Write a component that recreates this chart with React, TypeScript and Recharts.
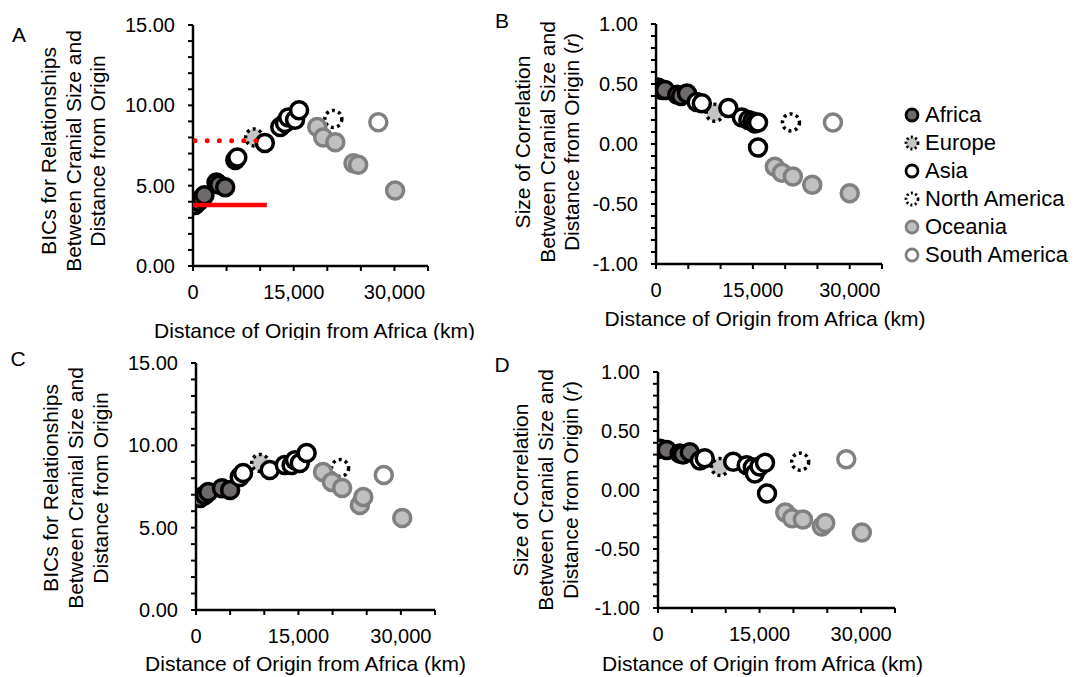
import React from 'react';
import { ScatterChart, Scatter, XAxis, YAxis, Legend } from 'recharts';

const FONT = '"Liberation Sans", Arial, Helvetica, sans-serif';

// ---------- categories ----------
const regions = ['Africa', 'Europe', 'Asia', 'North America', 'Oceania', 'South America'];

// ---------- tick values ----------
const xTicks = [0, 5000, 10000, 15000, 20000, 25000, 30000, 35000];
const bicTicks = [0, 1, 2, 3, 4, 5, 6, 7, 8, 9, 10, 11, 12, 13, 14, 15];
const rTicks = [-1, -0.9, -0.8, -0.7, -0.6, -0.5, -0.4, -0.3, -0.2, -0.1, 0, 0.1, 0.2, 0.3, 0.4, 0.5, 0.6, 0.7, 0.8, 0.9, 1];

// ---------- Panel A (BIC) : [distance km, BIC] ----------
const aAfrica = [[300, 3.8], [800, 4.0], [1300, 4.2], [1700, 4.4], [3500, 5.2], [3900, 5.05], [4800, 4.9]];
const aEurope = [[9100, 8.0]];
const aAsia = [[6300, 6.6], [6600, 6.75], [10700, 7.65], [13000, 8.65], [13700, 8.9], [14200, 9.25], [15200, 9.1], [15800, 9.7]];
const aNorthAmerica = [[20900, 9.15]];
const aOceania = [[18500, 8.65], [19400, 8.0], [21200, 7.7], [23900, 6.4], [24600, 6.3], [30100, 4.7]];
const aSouthAmerica = [[27600, 8.95]];
const aSolidLine = [[0, 3.8], [11000, 3.8]];
const aDottedLine = [[300, 7.8], [9400, 7.8]];

// ---------- Panel B (r) ----------
const bAfrica = [[300, 0.47], [900, 0.45], [1400, 0.45], [3300, 0.41], [3900, 0.40], [4800, 0.42]];
const bEurope = [[9100, 0.26]];
const bAsia = [[6300, 0.35], [7100, 0.34], [11200, 0.30], [13300, 0.22], [14300, 0.20], [14900, 0.19], [15300, 0.17], [15800, 0.18], [15800, -0.03]];
const bNorthAmerica = [[20900, 0.18]];
const bOceania = [[18400, -0.19], [19500, -0.24], [21200, -0.27], [24200, -0.34], [30000, -0.41]];
const bSouthAmerica = [[27400, 0.18]];

// ---------- Panel C (BIC) ----------
const cAfrica = [[600, 6.8], [1300, 6.98], [1800, 7.17], [3800, 7.4], [5000, 7.29]];
const cEurope = [[9400, 8.93]];
const cAsia = [[6400, 8.07], [6900, 8.32], [10800, 8.5], [13000, 8.8], [14000, 8.8], [14500, 9.1], [15200, 8.93], [16200, 9.53]];
const cNorthAmerica = [[21100, 8.62]];
const cOceania = [[18600, 8.38], [19900, 7.77], [21400, 7.41], [24000, 6.38], [24500, 6.86], [30200, 5.59]];
const cSouthAmerica = [[27500, 8.2]];

// ---------- Panel D (r) ----------
const dAfrica = [[300, 0.35], [1300, 0.34], [3200, 0.31], [3700, 0.30], [4700, 0.32]];
const dEurope = [[9150, 0.195]];
const dAsia = [[6200, 0.25], [6900, 0.27], [11100, 0.24], [13100, 0.21], [14000, 0.19], [14300, 0.14], [15000, 0.2], [15800, 0.23], [16100, -0.03]];
const dNorthAmerica = [[21000, 0.24]];
const dOceania = [[18800, -0.19], [19800, -0.24], [21400, -0.25], [24200, -0.31], [24700, -0.28], [30100, -0.36]];
const dSouthAmerica = [[27800, 0.26]];

// ---------- styles ----------
const seriesStyle: Record<string, { fill: string; stroke: string; dash?: string }> = {
  'Africa': { fill: '#6e6a6a', stroke: '#000000' },
  'Europe': { fill: '#c4c4c4', stroke: '#000000', dash: '3 3.4' },
  'Asia': { fill: '#ffffff', stroke: '#000000' },
  'North America': { fill: '#ffffff', stroke: '#000000', dash: '3 3.4' },
  'Oceania': { fill: '#c0c0c0', stroke: '#808080' },
  'South America': { fill: '#ffffff', stroke: '#808080' },
};

const toPts = (arr: number[][]) => arr.map(([x, y]) => ({ x, y }));

const makeShape = (name: string) => (p: any) => {
  const st = seriesStyle[name];
  return (
    <circle cx={p.cx} cy={p.cy} r={8.5} fill={st.fill} stroke={st.stroke} strokeWidth={3.5} strokeDasharray={st.dash} />
  );
};
const noShape = () => <g />;

const fmtX = (v: number) => (v % 15000 === 0 ? v.toLocaleString('en-US') : '');
const fmtBic = (v: number) => (v % 5 === 0 ? v.toFixed(2) : '');
const fmtR = (v: number) => (Math.abs(v * 2 - Math.round(v * 2)) < 1e-9 ? (Math.abs(v) < 1e-9 ? '0.00' : v.toFixed(2)) : '');

const tickStyle = { fontSize: 20, fontFamily: FONT, fill: '#000' };
const axisLine = { stroke: '#000', strokeWidth: 2.5 };
const tickLine = { stroke: '#000', strokeWidth: 2 };

type PanelProps = {
  left: number; top: number; width: number; height: number;
  margin: { top: number; right: number; bottom: number; left: number };
  yWidth: number;
  yDomain: [number, number];
  yTicks: number[];
  yFmt: (v: number) => string;
  data: number[][][];
  letter: string; letterPos: [number, number];
  yLines: React.ReactNode[]; yLineX: number[]; yCenter: number;
  xTitleDx: number; xTitleDy: number;
  extra?: React.ReactNode;
};

function Panel(props: PanelProps) {
  const { left, top, width, height, margin, yWidth, yDomain, yTicks, yFmt, data, letter, letterPos, yLines, yLineX, yCenter, xTitleDx, xTitleDy, extra } = props;
  const yTitle = () => (
    <g>
      <text x={letterPos[0]} y={letterPos[1]} textAnchor="middle" dominantBaseline="central" fontFamily={FONT} fontSize={21} fill="#000">{letter}</text>
      {yLines.map((ln, i) => (
        <text key={i} x={yLineX[i]} y={yCenter} transform={`rotate(-90, ${yLineX[i]}, ${yCenter})`} textAnchor="middle" dominantBaseline="central" fontFamily={FONT} fontSize={21} fill="#000">{ln}</text>
      ))}
    </g>
  );
  const xTitle = (p: any) => {
    const vb = p.viewBox || { x: 0, y: 0, width: 0 };
    return (
      <text x={vb.x + vb.width / 2 + xTitleDx} y={vb.y + xTitleDy} textAnchor="middle" dominantBaseline="central" fontFamily={FONT} fontSize={21} fill="#000">
        Distance of Origin from Africa (km)
      </text>
    );
  };
  return (
    <div style={{ position: 'absolute', left, top, width, height }}>
      <ScatterChart width={width} height={height} margin={margin}>
        <XAxis type="number" dataKey="x" domain={[0, 35000]} ticks={xTicks} interval={0} tickFormatter={fmtX}
          tick={tickStyle} axisLine={axisLine} tickLine={tickLine} tickSize={5} tickMargin={14} height={30}
          allowDataOverflow label={xTitle} />
        <YAxis type="number" dataKey="y" domain={yDomain} ticks={yTicks} interval={0} tickFormatter={yFmt}
          tick={tickStyle} axisLine={axisLine} tickLine={tickLine} tickSize={5} tickMargin={13} width={yWidth}
          allowDataOverflow label={yTitle} />
        {regions.map((r, i) => (
          <Scatter key={r} name={r} data={toPts(data[i])} isAnimationActive={false} shape={makeShape(r)} />
        ))}
        {extra}
      </ScatterChart>
    </div>
  );
}

function LegendBox() {
  return (
    <div style={{ position: 'absolute', left: 0, top: 0, fontFamily: FONT, fontSize: 22, color: '#000', whiteSpace: 'nowrap' }}>
      {regions.map((r) => {
        const st = seriesStyle[r];
        return (
          <div key={r} style={{ display: 'flex', alignItems: 'center', height: 28 }}>
            <svg width={16} height={16} style={{ marginRight: 5 }}>
              <circle cx={8} cy={8} r={6} fill={st.fill} stroke={st.stroke} strokeWidth={2.8} strokeDasharray={st.dash ? '2 2.4' : undefined} />
            </svg>
            <span>{r}</span>
          </div>
        );
      })}
    </div>
  );
}

const bicLines = ['BICs for Relationships', 'Between Cranial Size and', 'Distance from Origin'];
const rLines = ['Size of Correlation', 'Between Cranial Size and', <tspan key="t">Distance from Origin (<tspan fontStyle="italic">r</tspan>)</tspan>];

export default function App() {
  return (
    <div style={{ position: 'absolute', left: 0, top: 0, width: 1083, height: 677, background: '#fff', overflow: 'hidden' }}>
      <Panel left={0} top={0} width={480} height={340}
        margin={{ top: 25, right: 52, bottom: 44, left: 0 }} yWidth={193}
        yDomain={[0, 15]} yTicks={bicTicks} yFmt={fmtBic}
        data={[aAfrica, aEurope, aAsia, aNorthAmerica, aOceania, aSouthAmerica]}
        letter="A" letterPos={[19, 34]} yLines={bicLines} yLineX={[48, 73, 97]} yCenter={151}
        xTitleDx={4} xTitleDy={64}
        extra={[
          <Scatter key="solid" name="solid" data={toPts(aSolidLine)} isAnimationActive={false} shape={noShape}
            line={{ stroke: '#ff0000', strokeWidth: 4.5 }} legendType="none" />,
          <Scatter key="dotted" name="dotted" data={toPts(aDottedLine)} isAnimationActive={false} shape={noShape}
            line={{ stroke: '#ff0000', strokeWidth: 5, strokeDasharray: '0 12.2', strokeLinecap: 'round' }} legendType="none" />,
        ]}
      />
      <Panel left={480} top={0} width={603} height={340}
        margin={{ top: 24, right: 201, bottom: 46, left: 0 }} yWidth={176}
        yDomain={[-1, 1]} yTicks={rTicks} yFmt={fmtR}
        data={[bAfrica, bEurope, bAsia, bNorthAmerica, bOceania, bSouthAmerica]}
        letter="B" letterPos={[22, 20]} yLines={rLines} yLineX={[42, 67, 91]} yCenter={142}
        xTitleDx={-4} xTitleDy={54}
        extra={<Legend content={() => <LegendBox />} wrapperStyle={{ position: 'absolute', left: 424, top: 101, width: 0, height: 0 }} />}
      />
      <Panel left={0} top={340} width={480} height={337}
        margin={{ top: 23, right: 45, bottom: 37, left: 0 }} yWidth={196}
        yDomain={[0, 15]} yTicks={bicTicks} yFmt={fmtBic}
        data={[cAfrica, cEurope, cAsia, cNorthAmerica, cOceania, cSouthAmerica]}
        letter="C" letterPos={[18, 18]} yLines={bicLines} yLineX={[50, 75, 100]} yCenter={148}
        xTitleDx={-10} xTitleDy={53}
      />
      <Panel left={480} top={340} width={603} height={337}
        margin={{ top: 32, right: 188, bottom: 39, left: 0 }} yWidth={178}
        yDomain={[-1, 1]} yTicks={rTicks} yFmt={fmtR}
        data={[dAfrica, dEurope, dAsia, dNorthAmerica, dOceania, dSouthAmerica]}
        letter="D" letterPos={[22, 24]} yLines={rLines} yLineX={[40, 65, 90]} yCenter={150}
        xTitleDx={-14} xTitleDy={55}
      />
    </div>
  );
}
